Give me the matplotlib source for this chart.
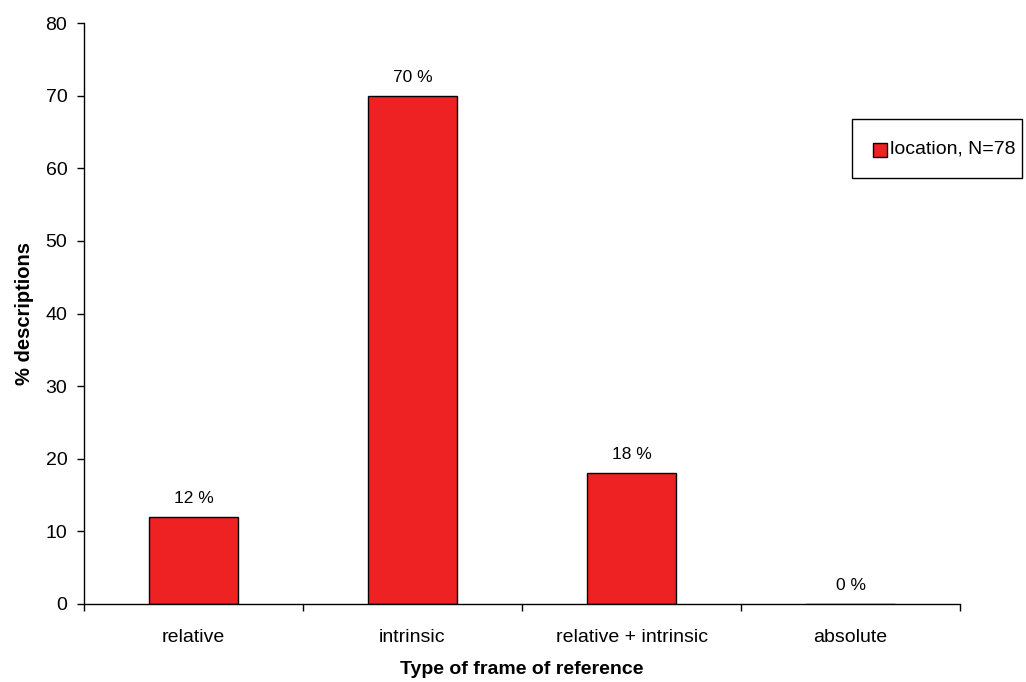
import matplotlib
matplotlib.use("Agg")
import matplotlib.pyplot as plt
from matplotlib.patches import Rectangle

categories = ["relative", "intrinsic", "relative + intrinsic", "absolute"]
values = [12, 70, 18, 0]
bar_labels = ["12 %", "70 %", "18 %", "0 %"]
series_name = "location, N=78"
yticks = [0, 10, 20, 30, 40, 50, 60, 70, 80]

plt.rcParams['font.family'] = ['Liberation Sans', 'DejaVu Sans']
W, H = 1026, 682
fig = plt.figure(figsize=(W/100, H/100), dpi=100)
ax = fig.add_axes([84/W, 78/H, (960-84)/W, (604-23)/H])

x = list(range(len(categories)))
color = "#EE2222"
ax.bar(x, values, width=0.405, color=color, edgecolor="black", linewidth=1.0)
for xi, v, lab in zip(x, values, bar_labels):
    ax.text(xi, v + 1.5, lab, ha="center", va="bottom", fontsize=12.5)

ax.set_xlim(-0.5, len(categories) - 0.5)
ax.set_ylim(0, 80)
ax.set_yticks(yticks)
ax.tick_params(axis='y', labelsize=14, direction='out', length=5, width=1, pad=7)
ax.set_xticks([i - 0.5 for i in range(len(categories) + 1)])
ax.set_xticklabels([])
ax.set_xticks(x, minor=True)
ax.set_xticklabels(categories, minor=True, fontsize=14)
ax.tick_params(axis='x', which='major', direction='out', length=5, width=1)
ax.tick_params(axis='x', which='minor', length=0, pad=18)
for s in ['top', 'right']:
    ax.spines[s].set_visible(False)
for s in ['left', 'bottom']:
    ax.spines[s].set_linewidth(1)

ax.set_ylabel("% descriptions", fontsize=14.5, fontweight='bold', labelpad=8)
ax.set_xlabel("Type of frame of reference", fontsize=14, fontweight='bold', labelpad=11)

# Legend box (drawn manually, Excel-style)
fig.add_artist(Rectangle((852/W, 1 - 178/H), (1022-852)/W, (178-119)/H,
                         transform=fig.transFigure, facecolor='white',
                         edgecolor='black', linewidth=1))
fig.add_artist(Rectangle((873/W, 1 - 157/H), 14/W, 14/H,
                         transform=fig.transFigure, facecolor=color,
                         edgecolor='black', linewidth=1))
fig.text(890/W, 1 - 149/H, series_name, fontsize=14, ha='left', va='center')

fig.savefig("out.png", dpi=100)
